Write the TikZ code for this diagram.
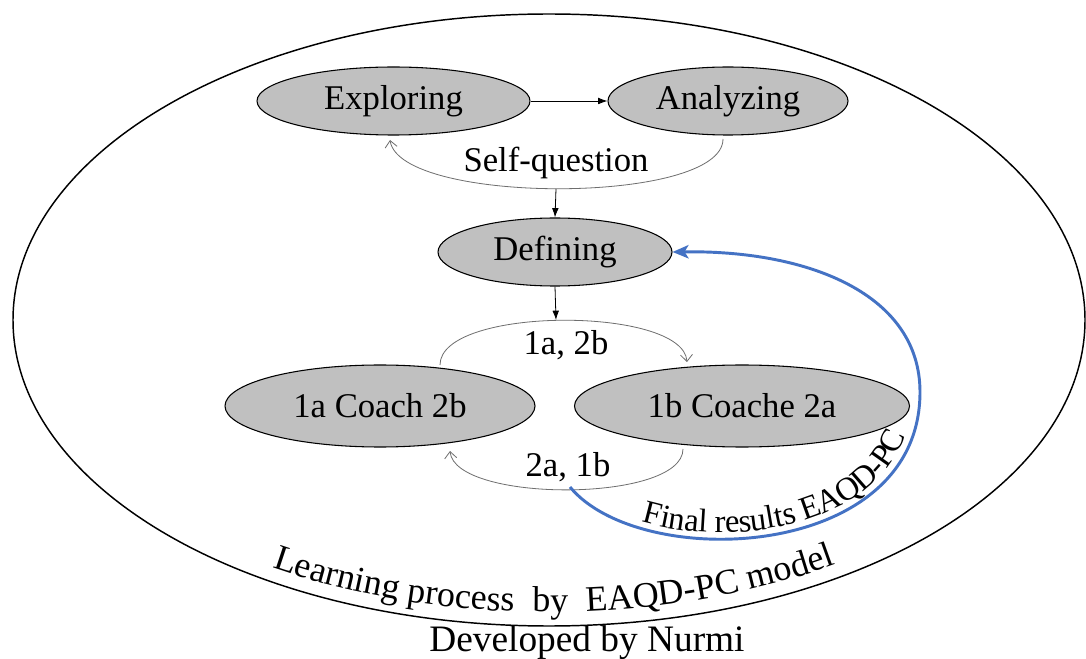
\documentclass[tikz,border=0pt]{standalone}
\usepackage{fontspec}
\setmainfont{Liberation Serif}
\usetikzlibrary{shapes.geometric,arrows.meta,decorations.text}
\definecolor{nodegray}{RGB}{192,192,192}
\definecolor{officeblue}{RGB}{68,114,196}
\definecolor{arcgray}{RGB}{110,110,110}
\begin{document}
\begin{tikzpicture}[x=0.75pt,y=-0.75pt,
  stage/.style={ellipse,draw=black,line width=0.8pt,fill=nodegray,inner sep=0pt,font=\fontsize{26}{30}\selectfont},
  lbl/.style={inner sep=1pt,font=\fontsize{26}{30}\selectfont},
  thinarc/.style={draw=arcgray,line width=0.6pt},
  opentip/.style={-{Straight Barb[length=5pt,width=9pt,line width=0.6pt]}},
  solidtip/.style={draw=black,line width=0.6pt,-{Latex[length=7pt,width=5pt]}},
  bluearc/.style={draw=officeblue,line width=2.2pt,-{Stealth[length=12pt,width=10pt,inset=3pt]}}
]
\useasboundingbox (0,0) rectangle (1086,659);
\fill[white] (0,0) rectangle (1086,659);

% outer frame
\draw[line width=1.1pt] (549,320) ellipse [x radius=536, y radius=306];

% stages
\node[stage,minimum width=204.75pt,minimum height=51pt] (explore) at (393.5,101) {Exploring};
\node[stage,minimum width=180pt,minimum height=51pt] (analyze) at (728,101) {Analyzing};
\node[stage,minimum width=175.5pt,minimum height=51pt] (define) at (555,252) {Defining};
\node[stage,minimum width=232.5pt,minimum height=61.5pt] (coachA) at (380,406) {1a Coach 2b};
\node[stage,minimum width=251.25pt,minimum height=61.5pt] (coachB) at (742,406) {1b Coache 2a};

% labels
\node[lbl] (sq) at (556,163) {Self-question};
\node[lbl] (lab1) at (566,345) {1a, 2b};
\node[lbl] (lab2) at (568,467) {2a, 1b};
\node[lbl,font=\fontsize{28}{32}\selectfont] (credit) at (587,643) {Developed by Nurmi};

% free ends of loops
\coordinate (sqA) at (723,139);
\coordinate (sqE) at (390,140);
\coordinate (sqBot) at (556,189);
\coordinate (topA) at (440,365);
\coordinate (topB) at (687,362);
\coordinate (topMid) at (556,320);
\coordinate (botB) at (683,449);
\coordinate (botA) at (450,451);
\coordinate (botMid) at (570,487);
\coordinate (blueR) at (920,392);

% connectors
\draw[solidtip] (explore.east) -- (analyze.west);
\draw[thinarc,opentip] (sqA) .. controls (723,205) and (400,205) .. (sqE);
\draw[solidtip] (sqBot) -- (define.north);
\draw[solidtip] (define.south) -- (topMid);
\draw[thinarc,opentip] (topA) .. controls (440,306) and (683,306) .. (topB);
\draw[thinarc,opentip] (botB) .. controls (683,503) and (455,503) .. (botA);

% final results arc
\draw[bluearc,postaction={decorate,decoration={text along path,
   text={|\fontsize{24.5}{28}\selectfont|Final results EAQD-PC},
   text align={left indent=62pt},raise=5pt}}]
  (botMid) .. controls (640,572) and (920,562) .. (blueR)
           .. controls (920,295) and (810,250) .. (define.east);

% caption along frame
\path[decorate,decoration={text along path,
   text={|\fontsize{27}{31}\selectfont|Learning process {\ }by {\ }EAQD-PC model},
   text align=center}]
  (549,320) ++(169:523 and 292) arc[start angle=169,end angle=9,x radius=523,y radius=292];
\end{tikzpicture}
\end{document}
